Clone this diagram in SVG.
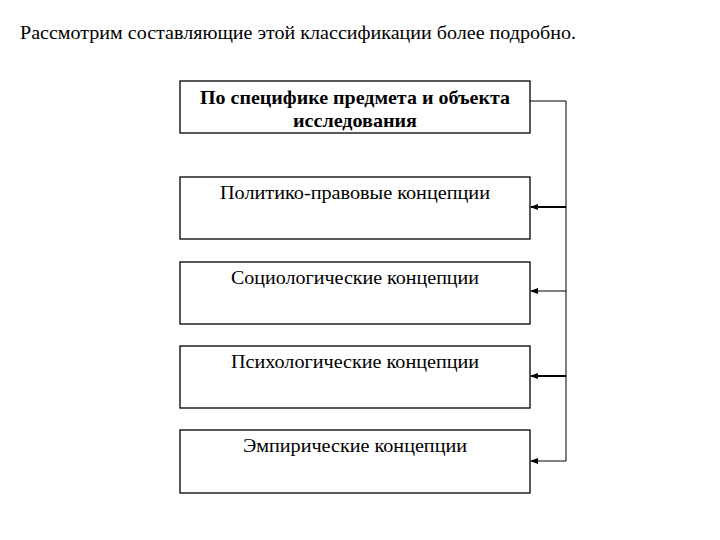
<svg xmlns="http://www.w3.org/2000/svg" width="720" height="540" viewBox="0 0 720 540">
<style>
.b{fill:#fff;stroke:#000;stroke-width:1.3}
text{font-family:"Liberation Serif",serif;font-size:19px;text-anchor:middle;fill:#000}
.c{stroke:#000;fill:none}
</style>
<defs><marker id="a" markerWidth="8" markerHeight="8" refX="7" refY="4" orient="auto" markerUnits="userSpaceOnUse"><path d="M0,1 L8,4 L0,7 Z" fill="#000"/></marker></defs>
<rect width="720" height="540" fill="#fff"/>
<text x="298" y="39" style="font-size:18px" textLength="556" lengthAdjust="spacingAndGlyphs">Рассмотрим составляющие этой классификации более подробно.</text>
<g id="n1"><rect class="b" x="180" y="81" width="350" height="52"/><text x="355" y="104" font-weight="bold" textLength="310" lengthAdjust="spacingAndGlyphs">По специфике предмета и объекта</text><text x="355" y="127" font-weight="bold" textLength="124" lengthAdjust="spacingAndGlyphs">исследования</text></g>
<g id="n2"><rect class="b" x="180" y="177" width="350" height="62"/><text x="355" y="199" textLength="270" lengthAdjust="spacingAndGlyphs">Политико-правовые концепции</text></g>
<g id="n3"><rect class="b" x="180" y="262" width="350" height="62"/><text x="355" y="284" textLength="248" lengthAdjust="spacingAndGlyphs">Социологические концепции</text></g>
<g id="n4"><rect class="b" x="180" y="346" width="350" height="62"/><text x="355" y="368" textLength="248" lengthAdjust="spacingAndGlyphs">Психологические концепции</text></g>
<g id="n5"><rect class="b" x="180" y="430" width="350" height="63"/><text x="355" y="452" textLength="224" lengthAdjust="spacingAndGlyphs">Эмпирические концепции</text></g>
<g id="connectors">
<path class="c" d="M530,101 H566 V461"/>
<path class="c" stroke-width="2" d="M566,207 H531" marker-end="url(#a)"/>
<path class="c" d="M566,291 H531" marker-end="url(#a)"/>
<path class="c" stroke-width="2" d="M566,376 H531" marker-end="url(#a)"/>
<path class="c" d="M566,461 H531" marker-end="url(#a)"/>
</g>
</svg>
